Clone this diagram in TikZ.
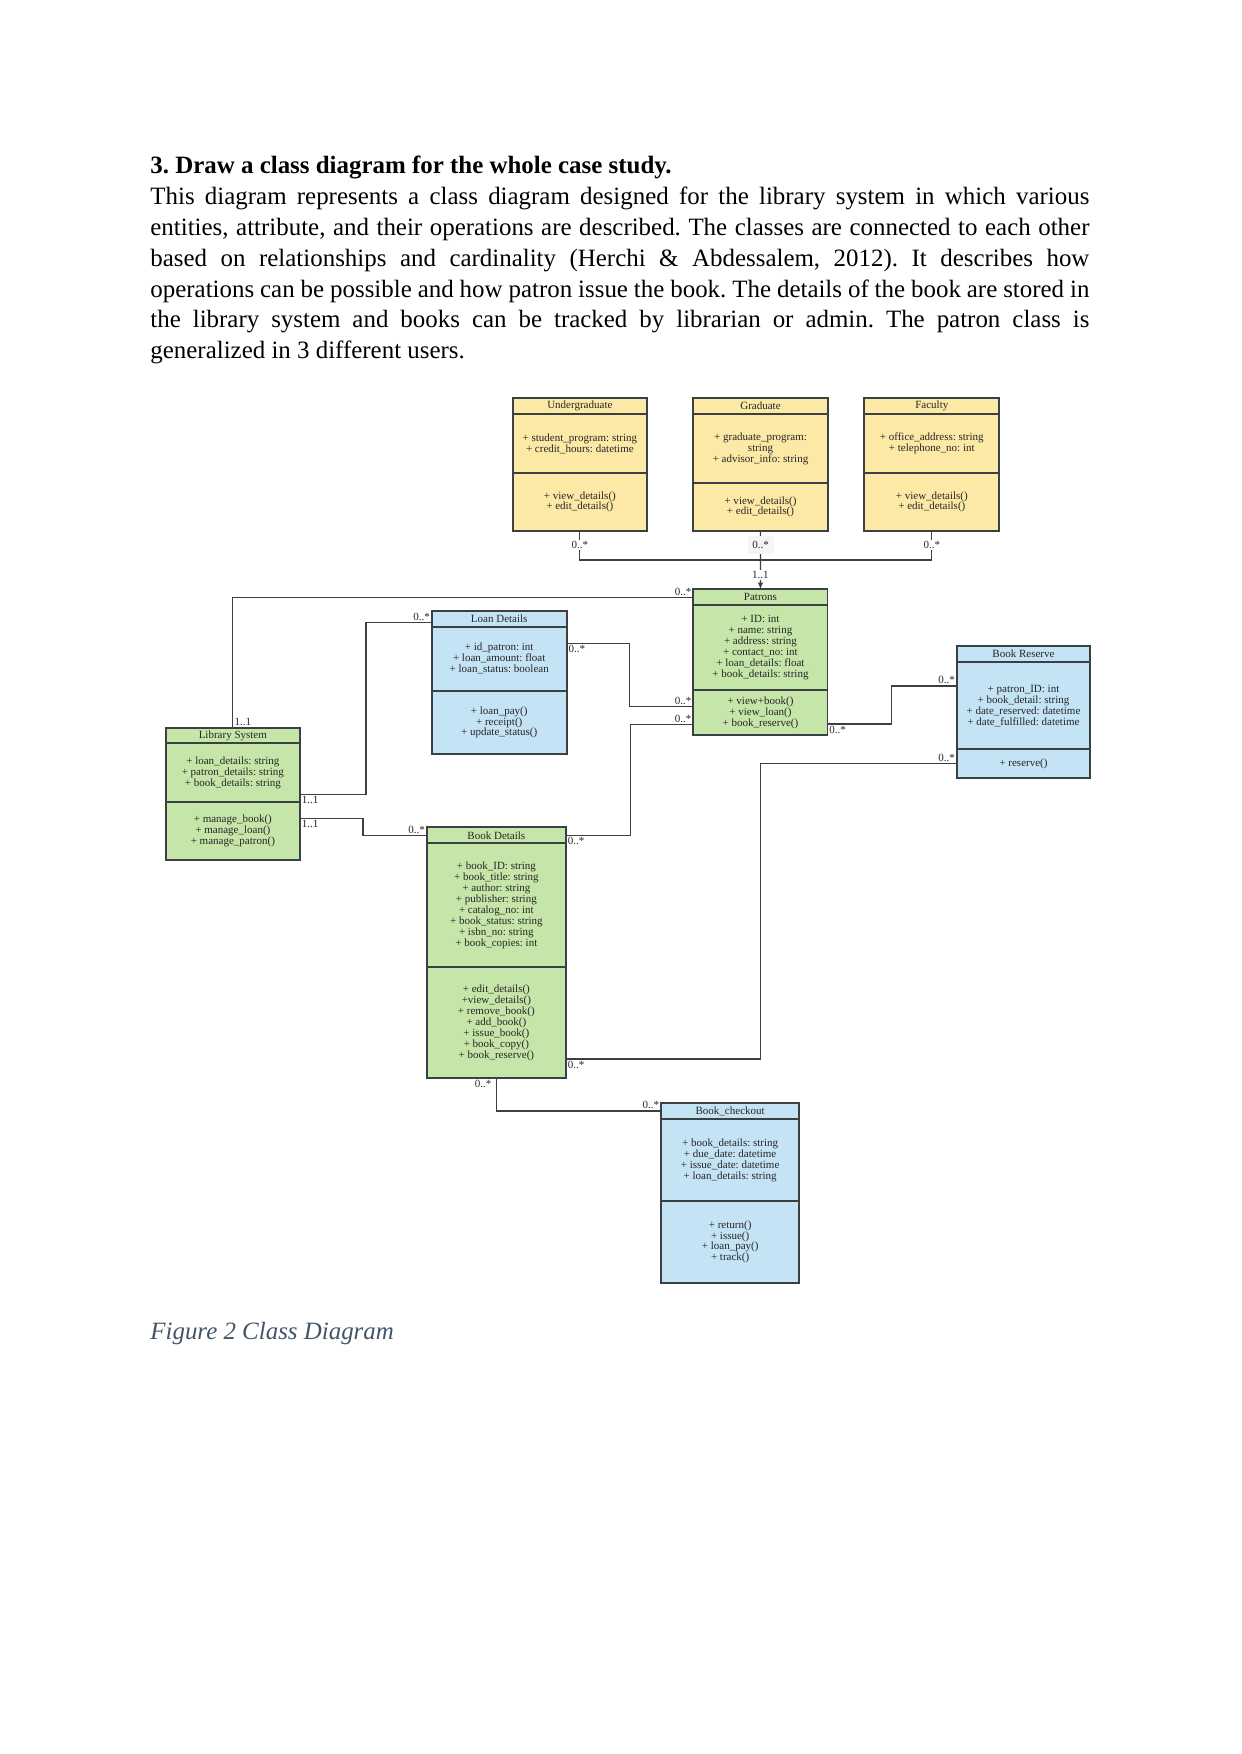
\documentclass[tikz,border=0pt]{standalone}
\usepackage{fontspec}
\setmainfont{Liberation Serif}
\usepackage{xcolor}
\usetikzlibrary{positioning, calc, arrows.meta}
\definecolor{clsyellow}{RGB}{252,233,166}
\definecolor{clsgreen}{RGB}{198,229,169}
\definecolor{clsblue}{RGB}{196,227,244}
\definecolor{clsline}{RGB}{58,64,68}
\definecolor{captgray}{RGB}{68,84,106}
\newcommand{\pu}{0.16922mm}
\newcommand{\umlfont}{\fontsize{5.3}{5.28}\selectfont}
\frenchspacing

\tikzset{
  cls/.style={draw=clsline, line width=0.8pt, outer sep=0pt, inner sep=1pt, align=center, font=\umlfont, text=black!85},
  mult/.style={font=\umlfont, inner sep=0.6pt, text=black!85},
  link/.style={draw=clsline, line width=0.6pt},
}

\begin{document}
\begin{tikzpicture}[x=\pu, y=-\pu]
\path[fill=white, use as bounding box] (0,0) rectangle (1241,1754);

\node[anchor=base west, inner sep=0pt, font=\fontsize{12}{14.82}\selectfont\bfseries] (heading) at (150,173.5) {3. Draw a class diagram for the whole case study.};
\node[anchor=base west, inner sep=0pt, text width=939*\pu, align=justify, font=\fontsize{12}{14.82}\selectfont] (para) at (150,204.8) {This diagram represents a class diagram designed for the library system in which various\linebreak entities, attribute, and their operations are described. The classes are connected to each other\linebreak based on relationships and cardinality (Herchi \& Abdessalem, 2012). It describes how\linebreak operations can be possible and how patron issue the book. The details of the book are stored in\linebreak the library system and books can be tracked by librarian or admin. The patron class is\linebreak generalized in 3 different users.};

% users
\begin{scope}[every node/.append style={cls, fill=clsyellow, minimum width=134.3*\pu}]
\node[anchor=north west, minimum height=16*\pu] (ug) at (512.7,398) {Undergraduate};
\node[below=0pt of ug, minimum height=59*\pu] (ug-a) {+ student\_program: string\\+ credit\_hours: datetime};
\node[below=0pt of ug-a, minimum height=57.7*\pu] (ug-o) {+ view\_details()\\+ edit\_details()};
\end{scope}
\begin{scope}[every node/.append style={cls, fill=clsyellow, minimum width=135*\pu}]
\node[anchor=north west, minimum height=16*\pu] (grad) at (693,398) {Graduate};
\node[below=0pt of grad, minimum height=69*\pu] (grad-a) {+ graduate\_program:\\string\\+ advisor\_info: string};
\node[below=0pt of grad-a, minimum height=47.7*\pu] (grad-o) {+ view\_details()\\+ edit\_details()};
\end{scope}
\begin{scope}[every node/.append style={cls, fill=clsyellow, minimum width=135*\pu}]
\node[anchor=north west, minimum height=16*\pu] (fac) at (864.3,398) {Faculty};
\node[below=0pt of fac, minimum height=59*\pu] (fac-a) {+ office\_address: string\\+ telephone\_no: int};
\node[below=0pt of fac-a, minimum height=57.7*\pu] (fac-o) {+ view\_details()\\+ edit\_details()};
\end{scope}

% patrons and library
\begin{scope}[every node/.append style={cls, fill=clsgreen, minimum width=134.3*\pu}]
\node[anchor=north west, minimum height=15.7*\pu] (patrons) at (693.3,589.3) {Patrons};
\node[below=0pt of patrons, minimum height=85*\pu] (patrons-a) {+ ID: int\\+ name: string\\+ address: string\\+ contact\_no: int\\+ loan\_details: float\\+ book\_details: string};
\node[below=0pt of patrons-a, minimum height=45*\pu] (patrons-o) {+ view+book()\\+ view\_loan()\\+ book\_reserve()};
\end{scope}
\begin{scope}[every node/.append style={cls, fill=clsgreen, minimum width=134.3*\pu}]
\node[anchor=north west, minimum height=15.6*\pu] (libsys) at (165.7,727.7) {Library System};
\node[below=0pt of libsys, minimum height=59*\pu] (libsys-a) {+ loan\_details: string\\+ patron\_details: string\\+ book\_details: string};
\node[below=0pt of libsys-a, minimum height=57.7*\pu] (libsys-o) {+ manage\_book()\\+ manage\_loan()\\+ manage\_patron()};
\end{scope}
\begin{scope}[every node/.append style={cls, fill=clsgreen, minimum width=139.3*\pu}]
\node[anchor=north west, minimum height=16*\pu] (bookd) at (426.7,827.3) {Book Details};
\node[below=0pt of bookd, minimum height=123.4*\pu] (bookd-a) {+ book\_ID: string\\+ book\_title: string\\+ author: string\\+ publisher: string\\+ catalog\_no: int\\+ book\_status: string\\+ isbn\_no: string\\+ book\_copies: int};
\node[below=0pt of bookd-a, minimum height=111.6*\pu] (bookd-o) {+ edit\_details()\\+view\_details()\\+ remove\_book()\\+ add\_book()\\+ issue\_book()\\+ book\_copy()\\+ book\_reserve()};
\end{scope}

% blue classes
\begin{scope}[every node/.append style={cls, fill=clsblue, minimum width=135*\pu}]
\node[anchor=north west, minimum height=16*\pu] (loan) at (431.7,610.7) {Loan Details};
\node[below=0pt of loan, minimum height=64*\pu] (loan-a) {+ id\_patron: int\\+ loan\_amount: float\\+ loan\_status: boolean};
\node[below=0pt of loan-a, minimum height=63.3*\pu] (loan-o) {+ loan\_pay()\\+ receipt()\\+ update\_status()};
\end{scope}
\begin{scope}[every node/.append style={cls, fill=clsblue, minimum width=133.6*\pu}]
\node[anchor=north west, minimum height=16.6*\pu] (bres) at (956.7,645.7) {Book Reserve};
\node[below=0pt of bres, minimum height=87*\pu] (bres-a) {+ patron\_ID: int\\+ book\_detail: string\\+ date\_reserved: datetime\\+ date\_fulfilled: datetime};
\node[below=0pt of bres-a, minimum height=28.4*\pu] (bres-o) {+ reserve()};
\end{scope}
\begin{scope}[every node/.append style={cls, fill=clsblue, minimum width=138.3*\pu}]
\node[anchor=north west, minimum height=16.6*\pu] (bco) at (661,1102.7) {Book\_checkout};
\node[below=0pt of bco, minimum height=81.7*\pu] (bco-a) {+ book\_details: string\\+ due\_date: datetime\\+ issue\_date: datetime\\+ loan\_details: string};
\node[below=0pt of bco-a, minimum height=81.7*\pu] (bco-o) {+ return()\\+ issue()\\+ loan\_pay()\\+ track()};
\end{scope}

% generalisation
\coordinate (join) at (760.5,560);
\draw[link] (ug-o.south) -- node[mult, fill=white] (m-ug) {0..*} (ug-o.south |- join) -- (fac-o.south |- join) -- node[mult, fill=white] (m-fac) {0..*} (fac-o.south);
\draw[link, -{Latex[length=3.2pt, width=2.6pt]}] (grad-o.south) -- node[mult, fill=black!4, minimum width=26*\pu, minimum height=18*\pu] (m-grad) {0..*} (join) -- node[mult, fill=white] (m-join) {1..1} (patrons.north);

% associations
\draw[link] (libsys.north) |- node[mult, at start, anchor=south west] (m-lib1) {1..1} node[mult, at end, anchor=south east] (m-pat1) {0..*} (patrons.west);
\draw[link] ($(loan-a.north west)+(0,-4)$) -- node[mult, at start, anchor=south east] (m-loan1) {0..*} ++(-65.7,0) |- node[mult, at end, anchor=north west] (m-lib2) {1..1} ($(libsys-a.south east)+(0,-8)$);
\draw[link] ($(libsys-o.north east)+(0,16)$) -- node[mult, at start, anchor=north west] (m-lib3) {1..1} ++(63,0) |- node[mult, at end, anchor=south east] (m-bd1) {0..*} (bookd.west);
\draw[link] ($(loan-a.north east)+(0,16.6)$) -- node[mult, at start, anchor=north west] (m-loan2) {0..*} ++(63,0) |- node[mult, at end, anchor=south east] (m-pat2) {0..*} ($(patrons-o.north west)+(0,16.7)$);
\draw[link] (bookd.east) -- node[mult, at start, anchor=north west] (m-bd2) {0..*} ++(64.6,0) |- node[mult, at end, anchor=south east] (m-pat3) {0..*} ($(patrons-o.north west)+(0,34.3)$);
\draw[link] ($(patrons-o.north east)+(0,34)$) -- node[mult, at start, anchor=north west] (m-pat4) {0..*} ++(64,0) |- node[mult, at end, anchor=south east] (m-br1) {0..*} ($(bres-a.north west)+(0,23.7)$);
\draw[link] (bres-o.west) -- node[mult, at start, anchor=south east] (m-br2) {0..*} ++(-195.9,0) |- node[mult, at end, anchor=north west] (m-bd3) {0..*} ($(bookd-o.south east)+(0,-19.3)$);
\draw[link] (bookd-o.south) |- node[mult, at start, anchor=north east, xshift=-1.5pt] (m-bd4) {0..*} node[mult, at end, anchor=south east] (m-bco) {0..*} (bco.west);

\node[anchor=base west, inner sep=0pt, font=\fontsize{12}{14.82}\selectfont\itshape, text=captgray] (caption) at (150,1339) {Figure 2 Class Diagram};
\end{tikzpicture}
\end{document}
